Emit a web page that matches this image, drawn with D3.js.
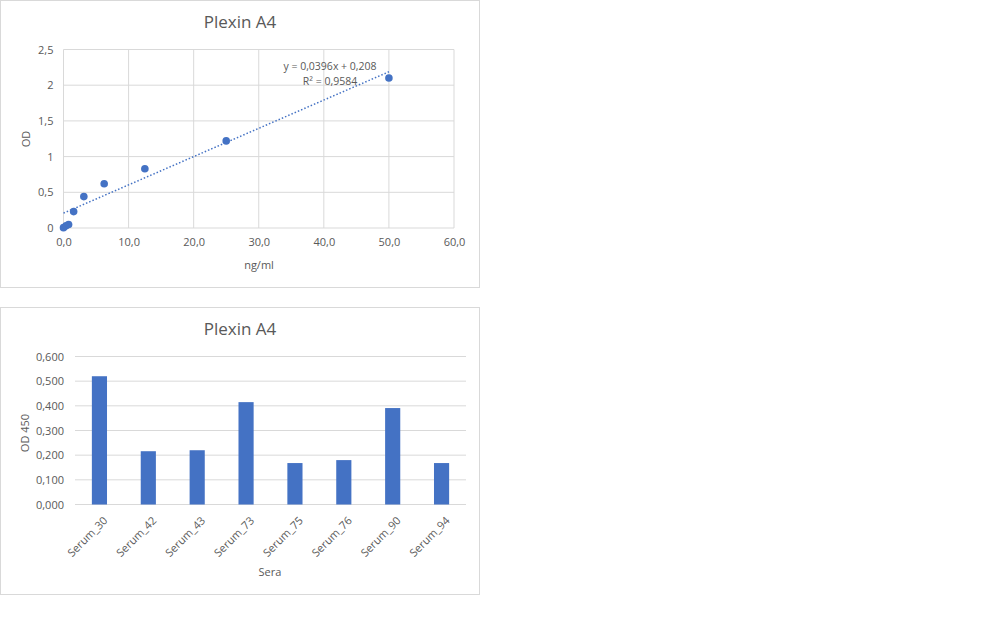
<!DOCTYPE html>
<html>
<head>
<meta charset="utf-8">
<script src="https://cdn.jsdelivr.net/npm/d3@7"></script>
<style>
  body { margin: 0; background: #fff; }
  text { font-family: "Open Sans", "Noto Sans", sans-serif; fill: #595959; }
</style>
</head>
<body>
<svg id="chart" width="1008" height="630"></svg>
<script>
// standard curve
var conc = [0, 0.39, 0.78, 1.56, 3.125, 6.25, 12.5, 25, 50];
var od = [0.005, 0.03, 0.05, 0.23, 0.44, 0.62, 0.83, 1.22, 2.10];
var slope = 0.0396, intercept = 0.208;
var xTicks = [0, 10, 20, 30, 40, 50, 60];
var yTicks = [0, 0.5, 1, 1.5, 2, 2.5];

// sera
var sera = ["Serum_30", "Serum_42", "Serum_43", "Serum_73", "Serum_75", "Serum_76", "Serum_90", "Serum_94"];
var seraOd = [0.520, 0.216, 0.220, 0.415, 0.168, 0.180, 0.391, 0.168];
var barTicks = [0, 0.1, 0.2, 0.3, 0.4, 0.5, 0.6];

var blue = "#4472c4", grid = "#d9d9d9";
var comma = function(f) { return function(d) { return d3.format(f)(d).replace(".", ","); }; };

var svg = d3.select("#chart");

// ---------- top: scatter ----------
var curveG = svg.append("g");
curveG.append("rect").attr("x", 0.5).attr("y", 0.5).attr("width", 479).attr("height", 287)
  .attr("fill", "#fff").attr("stroke", "#d9d9d9");
curveG.append("text").attr("x", 240).attr("y", 28).attr("text-anchor", "middle")
  .style("font-size", "17px").text("Plexin A4");

var x = d3.scaleLinear().domain([0, 60]).range([63.5, 454]);
var y = d3.scaleLinear().domain([0, 2.5]).range([228, 49.5]);

curveG.append("g").selectAll("line.v").data(xTicks).enter().append("line")
  .attr("x1", d => x(d)).attr("x2", d => x(d)).attr("y1", y(0)).attr("y2", y(2.5))
  .attr("stroke", grid);
curveG.append("g").selectAll("line.h").data(yTicks).enter().append("line")
  .attr("x1", x(0)).attr("x2", x(60)).attr("y1", d => y(d)).attr("y2", d => y(d))
  .attr("stroke", grid);

var xAx = curveG.append("g").attr("transform", "translate(0," + y(0) + ")")
  .call(d3.axisBottom(x).tickValues(xTicks).tickFormat(comma(".1f")).tickSize(0).tickPadding(10));
xAx.select(".domain").remove();
xAx.selectAll("text").style("font-size", "11px").style("fill", "#595959");

var yAx = curveG.append("g").attr("transform", "translate(" + x(0) + ",0)")
  .call(d3.axisLeft(y).tickValues(yTicks).tickFormat(d => String(d).replace(".", ",")).tickSize(0).tickPadding(10));
yAx.select(".domain").remove();
yAx.selectAll("text").style("font-size", "11px").style("fill", "#595959");

curveG.append("text").attr("x", 259).attr("y", 269).attr("text-anchor", "middle")
  .style("font-size", "11px").text("ng/ml");
curveG.append("text").attr("transform", "translate(30,139) rotate(-90)").attr("text-anchor", "middle")
  .style("font-size", "11px").text("OD");

// trendline
var trend = [0, 50];
curveG.append("line")
  .attr("x1", x(trend[0])).attr("y1", y(slope * trend[0] + intercept))
  .attr("x2", x(trend[1])).attr("y2", y(slope * trend[1] + intercept))
  .attr("stroke", blue).attr("stroke-width", 1.5).attr("stroke-dasharray", "1.5,2");

curveG.selectAll("circle").data(conc).enter().append("circle")
  .attr("cx", d => x(d)).attr("cy", (d, i) => y(od[i])).attr("r", 3.8)
  .attr("fill", blue);

curveG.append("text").attr("x", 330).attr("y", 70).attr("text-anchor", "middle")
  .style("font-size", "10.5px").text("y = " + comma(".4f")(slope) + "x + " + comma(".3f")(intercept));
curveG.append("text").attr("x", 330).attr("y", 85).attr("text-anchor", "middle")
  .style("font-size", "10.5px").text("R² = 0,9584");

// ---------- bottom: bars ----------
var barG = svg.append("g").attr("transform", "translate(0,307)");
barG.append("rect").attr("x", 0.5).attr("y", 0.5).attr("width", 479).attr("height", 287)
  .attr("fill", "#fff").attr("stroke", "#d9d9d9");
barG.append("text").attr("x", 240).attr("y", 28).attr("text-anchor", "middle")
  .style("font-size", "17px").text("Plexin A4");

var bx = d3.scaleBand().domain(sera).range([75, 466]).paddingInner(0.69).paddingOuter(0.345);
var by = d3.scaleLinear().domain([0, 0.6]).range([197.5, 49.5]);

barG.append("g").selectAll("line").data(barTicks).enter().append("line")
  .attr("x1", 75).attr("x2", 466).attr("y1", d => by(d)).attr("y2", d => by(d))
  .attr("stroke", grid);

var byAx = barG.append("g").attr("transform", "translate(75,0)")
  .call(d3.axisLeft(by).tickValues(barTicks).tickFormat(comma(".3f")).tickSize(0).tickPadding(11));
byAx.select(".domain").remove();
byAx.selectAll("text").style("font-size", "11px").style("fill", "#595959");

barG.selectAll("rect.bar").data(sera).enter().append("rect").attr("class", "bar")
  .attr("x", d => bx(d)).attr("width", bx.bandwidth())
  .attr("y", (d, i) => by(seraOd[i])).attr("height", (d, i) => by(0) - by(seraOd[i]))
  .attr("fill", blue);

var bxAx = barG.append("g").attr("transform", "translate(0," + by(0) + ")")
  .call(d3.axisBottom(bx).tickSize(0));
bxAx.select(".domain").remove();
bxAx.selectAll("text").style("font-size", "11px").style("fill", "#595959")
  .attr("text-anchor", "end").attr("dy", "0.35em")
  .attr("transform", "translate(4,12) rotate(-45)");

barG.append("text").attr("x", 270).attr("y", 269).attr("text-anchor", "middle")
  .style("font-size", "11px").text("Sera");
barG.append("text").attr("transform", "translate(29,126) rotate(-90)").attr("text-anchor", "middle")
  .style("font-size", "11px").text("OD 450");
</script>
</body>
</html>
